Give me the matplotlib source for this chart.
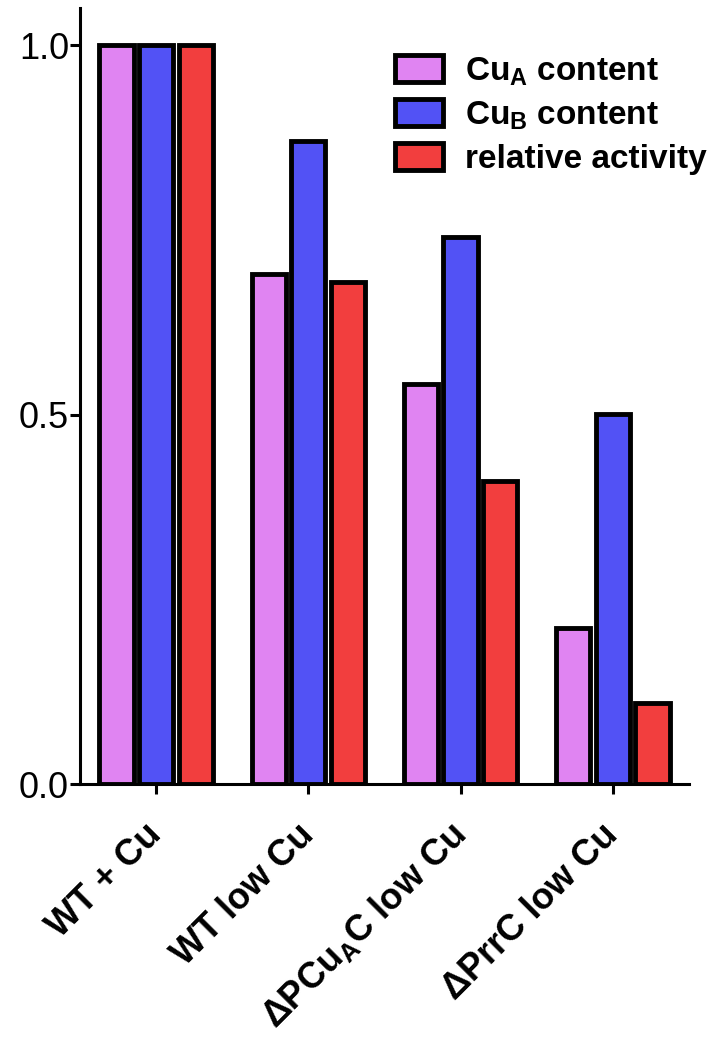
import matplotlib
matplotlib.use("Agg")
import matplotlib.pyplot as plt
import numpy as np

plt.rcParams['font.family'] = ['Liberation Sans', 'DejaVu Sans']
plt.rcParams['mathtext.fontset'] = 'custom'
plt.rcParams['mathtext.rm'] = 'Liberation Sans:bold'
plt.rcParams['mathtext.bf'] = 'Liberation Sans:bold'

categories = ['WT + Cu', 'WT low Cu', r'ΔPCu$_\mathrm{A}$C low Cu', 'ΔPrrC low Cu']
series_names = [r'Cu$_\mathrm{A}$ content', r'Cu$_\mathrm{B}$ content', 'relative activity']
cuA = [1.0, 0.69, 0.541, 0.211]
cuB = [1.0, 0.870, 0.741, 0.501]
activity = [1.0, 0.680, 0.410, 0.110]
yticks = [0.0, 0.5, 1.0]
ytick_labels = ['0.0', '0.5', '1.0']

colors = ['#e084f2', '#5252f5', '#f23e3e']

fig = plt.figure(figsize=(7.11, 10.5), dpi=100)
ax = fig.add_axes([0.1125, 0.2533, 0.8565, 0.7387])

x = np.arange(len(categories))
pitch = 0.26
width = 0.225
for i, (vals, c, name) in enumerate(zip([cuA, cuB, activity], colors, series_names)):
    ax.bar(x + (i - 1) * pitch, vals, width=width, color=c, edgecolor='black',
           linewidth=3.5, label=name, zorder=3)

ax.set_xlim(-0.5, 3.5)
ax.set_ylim(0, 1.05)
ax.set_yticks(yticks)
ax.set_yticklabels(ytick_labels, fontsize=26)
ax.set_xticks(x)
ax.set_xticklabels(categories, fontsize=26, fontweight='bold', rotation=45,
                   ha='right', va='center', rotation_mode='anchor')
for s in ['top', 'right']:
    ax.spines[s].set_visible(False)
for s in ['left', 'bottom']:
    ax.spines[s].set_linewidth(2.2)
ax.tick_params(axis='both', direction='out', length=7, width=2.2)
ax.tick_params(axis='x', pad=26)
ax.tick_params(axis='y', pad=1)

leg = fig.legend(*ax.get_legend_handles_labels(), loc='upper left',
                 bbox_to_anchor=(395 / 711, 1 - 55 / 1050), frameon=False,
                 prop={'size': 24, 'weight': 'bold'}, handlelength=1.45,
                 handleheight=0.85, handletextpad=0.65, labelspacing=0.34,
                 borderpad=0, borderaxespad=0)

fig.savefig('out.png', dpi=100)
